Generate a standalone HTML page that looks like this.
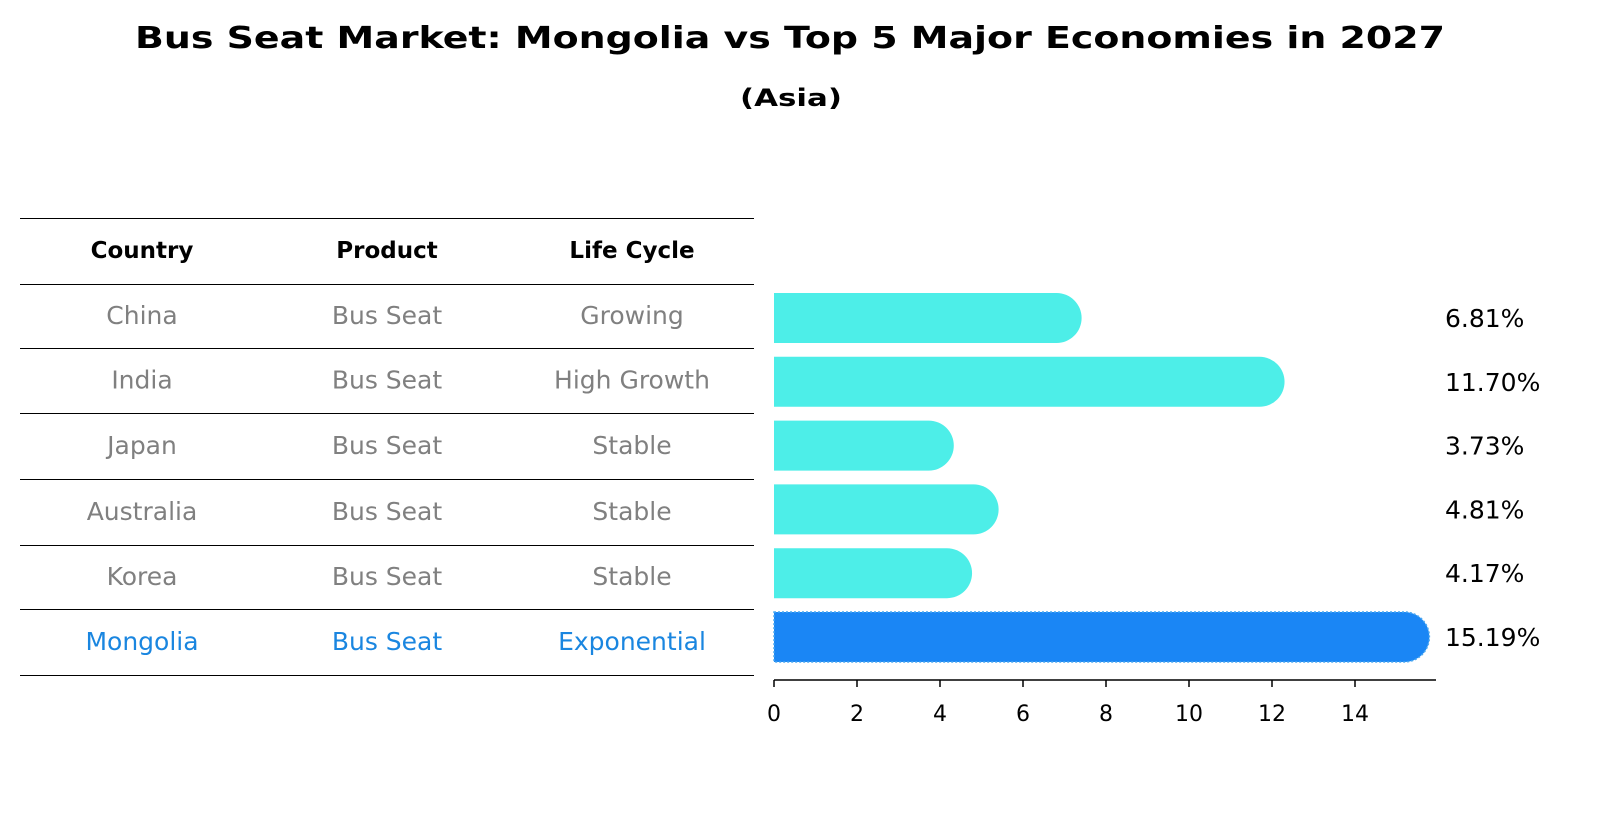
<!DOCTYPE html>
<html><head><meta charset="utf-8"><style>
body{margin:0;background:#fff;font-family:"Liberation Sans","DejaVu Sans",sans-serif}
svg text{font-family:"DejaVu Sans","Liberation Sans",sans-serif}
</style></head><body>
<svg id="c" width="1604" height="823" xmlns="http://www.w3.org/2000/svg">
<text x="135" y="48" font-size="30" font-weight="bold" textLength="1310" lengthAdjust="spacingAndGlyphs">Bus Seat Market: Mongolia vs Top 5 Major Economies in 2027</text>
<text x="740" y="106" font-size="24" font-weight="bold" textLength="102" lengthAdjust="spacingAndGlyphs">(Asia)</text>
<g id="tbl"></g>
<g id="bars"></g>
<g id="axis"></g>
</svg>
<script>
const countries=["China","India","Japan","Australia","Korea","Mongolia"];
const products=["Bus Seat","Bus Seat","Bus Seat","Bus Seat","Bus Seat","Bus Seat"];
const lifeCycles=["Growing","High Growth","Stable","Stable","Stable","Exponential"];
const values=[6.81,11.70,3.73,4.81,4.17,15.19];
const ticks=[0,2,4,6,8,10,12,14];
const NS="http://www.w3.org/2000/svg";
const x0=774,ppu=41.5;
const xs=v=>x0+v*ppu;
const rowY=i=>318+i*63.8;
function mk(tag,attrs,parent,txt){const e=document.createElementNS(NS,tag);for(const k in attrs)e.setAttribute(k,attrs[k]);if(txt!==undefined)e.textContent=txt;parent.appendChild(e);return e;}
const tbl=document.getElementById('tbl'),bars=document.getElementById('bars'),axis=document.getElementById('axis');
const lineYs=[218,284,348,413,479,545,609,675];
lineYs.forEach(y=>{const l=mk('line',{x1:20,x2:754,y1:y+0.5,y2:y+0.5,stroke:'#000','stroke-width':1},tbl);

});
const cols=[142,387,632];
["Country","Product","Life Cycle"].forEach((h,j)=>{const t=mk('text',{x:cols[j],y:258,'text-anchor':'middle','font-size':23,'font-weight':'bold'},tbl,h);

});
countries.forEach((c,i)=>{
  const col=i===countries.length-1?'#1a86e0':'#808080';
  const y=(lineYs[i+1]+lineYs[i+2])/2+8;
  [c,products[i],lifeCycles[i]].forEach((v,j)=>{const t=mk('text',{x:cols[j],y:y,'text-anchor':'middle','font-size':25,fill:col},tbl,v);
  
  });
  const cy=rowY(i),h=50,r=25;
  const xe=xs(values[i]);
  const last=i===countries.length-1;
  const fill=last?'#1a86f5':'#4deee8';
  const attrs={d:`M${x0},${cy-h/2} L${xe},${cy-h/2} A${r},${r} 0 0 1 ${xe},${cy+h/2} L${x0},${cy+h/2} Z`,fill:fill};
  if(last){attrs.stroke='#4aa8f0';attrs['stroke-width']=1.5;attrs['stroke-dasharray']='2,2';}
  const p=mk('path',attrs,bars);
  
  
  const lb=mk('text',{x:1445,y:cy+9,'font-size':25},bars,values[i].toFixed(2)+'%');
  
  
});
const al=mk('line',{x1:x0,x2:1436,y1:680,y2:680,stroke:'#000','stroke-width':1.5},axis);


ticks.forEach(t=>{const tl=mk('line',{x1:xs(t),x2:xs(t),y1:680,y2:687,stroke:'#000','stroke-width':1.5},axis);


const tx=mk('text',{x:xs(t),y:721,'text-anchor':'middle','font-size':22},axis,String(t));

});
</script>
</body></html>
